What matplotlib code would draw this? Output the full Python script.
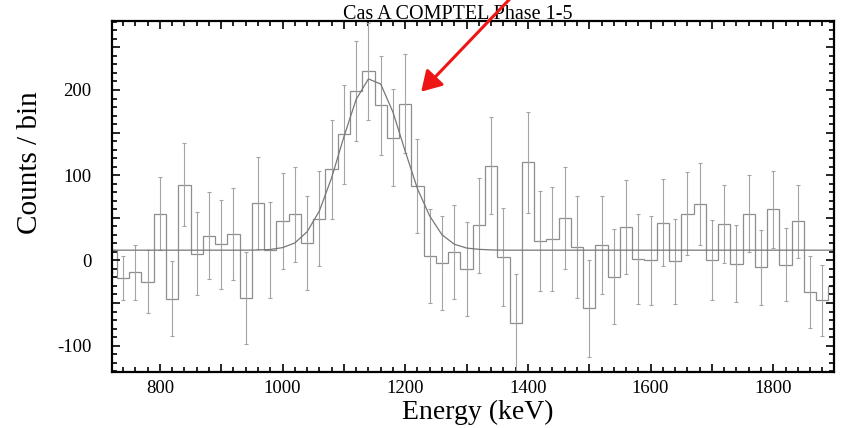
import numpy as np
import matplotlib
matplotlib.use("Agg")
import matplotlib.pyplot as plt
from matplotlib.ticker import MultipleLocator, FuncFormatter

plt.rcParams['font.family'] = ['Liberation Serif', 'DejaVu Serif']

# bin edges (keV), 20 keV bins
edges = np.arange(710, 1911, 20)
counts = [12, -21, -14, -25, 55, -45, 89, 8, 29, 19,
          31, -44, 67, 12, 46, 54, 20, 49, 107, 148,
          199, 222, 182, 144, 184, 87, 5, -3, 10, -10,
          41, 111, 4, -73, 115, 23, 25, 50, 16, -56,
          18, -19, 39, 2, 0, 44, -1, 55, 66, 0,
          43, -4, 55, -8, 60, -5, 46, -37, -47, -30]
errors = [26, 26, 32, 37, 43, 44, 49, 49, 51, 52,
          54, 54, 54, 56, 56, 56, 55, 56, 58, 58,
          59, 57, 58, 57, 58, 55, 55, 55, 55, 55,
          56, 57, 57, 57, 59, 59, 61, 60, 60, 57,
          57, 56, 55, 53, 52, 51, 50, 49, 48, 47,
          46, 45, 45, 44, 45, 43, 43, 42, 42, 41]
# fitted line (line + flat background), read at bin centres
fit_counts = [12, 12, 12, 12, 12, 12, 12, 12, 12, 12,
              12, 12, 12.2, 12.8, 15, 20.5, 33.5, 58, 97, 145,
              189, 213, 207, 174, 128, 84, 52, 30, 19, 14.5,
              13, 12.3, 12, 12, 12, 12, 12, 12, 12, 12,
              12, 12, 12, 12, 12, 12, 12, 12, 12, 12,
              12, 12, 12, 12, 12, 12, 12, 12, 12, 12]
centers = (edges[:-1] + edges[1:]) / 2

fig = plt.figure(figsize=(8.43, 4.28), dpi=100)
ax = fig.add_axes([0.1329, 0.1308, 0.8564, 0.8202])

ax.stairs(counts, edges, baseline=None, color='#8e8e8e', lw=0.9)
ax.errorbar(centers, counts, yerr=errors, fmt='none', ecolor='#a4a4a4',
            elinewidth=0.8, capsize=1.5, capthick=0.8)
ax.plot(centers, fit_counts, color='#777777', lw=0.9)

ax.set_xlim(722, 1899)
ax.set_ylim(-131, 281)

ax.xaxis.set_major_locator(MultipleLocator(100))
ax.xaxis.set_minor_locator(MultipleLocator(20))
ax.xaxis.set_major_formatter(FuncFormatter(lambda v, p: '%d' % v if v % 200 == 0 else ''))
ax.yaxis.set_major_locator(MultipleLocator(50))
ax.yaxis.set_minor_locator(MultipleLocator(10))
ax.yaxis.set_major_formatter(FuncFormatter(lambda v, p: '%d' % v if v % 100 == 0 else ''))

ax.tick_params(which='both', direction='in', top=True, right=True, width=1.2,
               labelsize=13.5)
ax.tick_params(which='major', length=6)
ax.tick_params(which='minor', length=3.5)
ax.tick_params(axis='y', which='major', pad=15)
ax.tick_params(axis='x', which='major', pad=6)
for s in ax.spines.values():
    s.set_linewidth(1.6)

ax.set_xlabel('Energy (keV)', fontsize=20)
ax.set_ylabel('Counts / bin', fontsize=21)
ax.xaxis.set_label_coords(0.507, -0.08)
ax.yaxis.set_label_coords(-0.096, 0.597)

ax.text(0.4785, 1.006, 'Cas A COMPTEL Phase 1-5', transform=ax.transAxes,
        ha='center', va='baseline', fontsize=14.5)

ax.annotate('', xy=(1226, 198), xytext=(1384, 317), xycoords='data',
            textcoords='data', annotation_clip=False,
            arrowprops=dict(arrowstyle='-|>,head_length=1.0,head_width=0.6',
                            mutation_scale=12, color='#ee1515', lw=2.2,
                            shrinkA=0, shrinkB=0))

fig.savefig('out.png', dpi=100)
